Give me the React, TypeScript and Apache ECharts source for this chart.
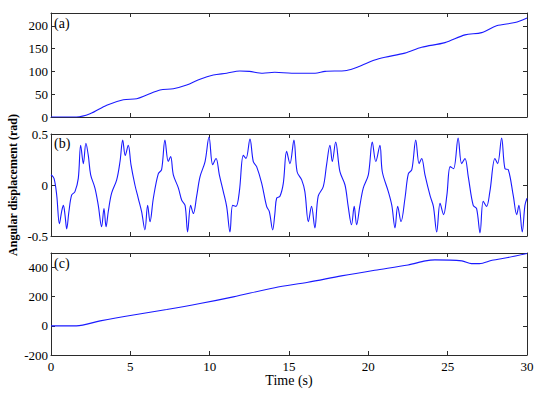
import React, { useEffect, useRef } from "react";
import * as echarts from "echarts";

// Panel (a)
const tA = [0, 1.6, 2.46, 3.51, 4.56, 5.4, 6.03, 6.87, 7.71, 8.55, 9.39, 10.23, 11.07, 11.9, 12.5, 13.35, 14.1, 15.17, 16.64, 17.27, 18.63, 19.37, 20.4, 21.05, 22.3, 23.36, 24.83, 26.09, 27.14, 28.08, 29.24, 30];
const vA = [0, 0, 7, 26, 38, 40, 48, 59, 62, 70, 83, 92, 96, 101, 100, 96, 98, 96, 96, 100, 102, 110, 125, 131, 140, 153, 163, 180, 185, 200, 207, 217];

// Panel (b)
const tB = [
  0, 0.19, 0.36, 0.53, 0.67, 0.78, 0.88, 0.99,
  1.13, 1.3, 1.51, 1.72, 1.87, 2.04, 2.2, 2.35, 2.5,
  2.77, 2.98, 3.19, 3.34, 3.47, 3.61, 3.82,
  4.14, 4.35, 4.52, 4.68, 4.87, 5.04, 5.29,
  5.5, 5.71, 5.92, 6.09, 6.24, 6.45,
  6.76, 6.97, 7.18, 7.39, 7.54, 7.71,
  8.03, 8.24, 8.45, 8.61, 8.8, 8.97, 9.18,
  9.39, 9.71, 9.96, 10.19, 10.4, 10.61,
  10.86, 11.07, 11.28, 11.45, 11.66, 11.87,
  12.12, 12.29, 12.54, 12.75, 12.96, 13.28,
  13.59, 13.76, 13.97, 14.11, 14.22, 14.43, 14.64,
  14.85, 15.06, 15.31, 15.51, 15.8, 16.0,
  16.22, 16.42, 16.63, 16.84, 17.16,
  17.37, 17.58, 17.73, 17.94, 18.21, 18.53,
  18.73, 18.94, 19.11, 19.26, 19.47, 19.68,
  20.0, 20.25, 20.47, 20.73, 20.88,
  21.26, 21.48, 21.68, 21.85, 22.06, 22.31,
  22.52, 22.74, 22.99, 23.2, 23.36, 23.57,
  23.9, 24.1, 24.31, 24.52, 24.74, 24.95,
  25.16, 25.37, 25.66, 25.88, 26.09, 26.3,
  26.61, 26.82, 27.04, 27.24, 27.45, 27.66,
  27.98, 28.15, 28.4, 28.61, 28.82,
  29.14, 29.35, 29.49, 29.7, 29.87, 30,
];
const vB = [
  0.1, 0.065, -0.1, -0.38, -0.26, -0.2, -0.29, -0.43,
  -0.26, -0.1, -0.065, 0.065, 0.39, 0.21, 0.41, 0.29, 0.1,
  -0.03, -0.2, -0.41, -0.23, -0.41, -0.26, -0.08,
  0.05, 0.23, 0.44, 0.29, 0.39, 0.2, 0.0,
  -0.13, -0.26, -0.44, -0.2, -0.36, -0.13,
  0.11, 0.15, 0.44, 0.23, 0.28, 0.1,
  -0.03, -0.15, -0.2, -0.46, -0.2, -0.28, -0.11,
  0.08, 0.23, 0.47, 0.2, 0.26, 0.1,
  -0.065, -0.21, -0.46, -0.2, -0.21, -0.065,
  0.29, 0.26, 0.45, 0.23, 0.18, 0.016,
  -0.21, -0.26, -0.44, -0.28, -0.13, -0.11, 0.016,
  0.33, 0.21, 0.44, 0.13, 0.05, -0.065,
  -0.36, -0.21, -0.42, -0.11, -0.016,
  0.2, 0.39, 0.23, 0.42, 0.13, 0.0,
  -0.21, -0.39, -0.21, -0.39, -0.2, -0.03,
  0.1, 0.42, 0.23, 0.39, 0.13,
  -0.065, -0.2, -0.42, -0.21, -0.36, -0.13,
  0.11, 0.15, 0.44, 0.21, 0.26, 0.1,
  -0.11, -0.21, -0.46, -0.18, -0.29, -0.1,
  0.18, 0.16, 0.46, 0.21, 0.26, 0.08,
  -0.2, -0.23, -0.47, -0.16, -0.21, -0.065,
  0.26, 0.21, 0.46, 0.16, 0.15,
  -0.11, -0.29, -0.2, -0.46, -0.2, -0.13,
];

// Panel (c)
const tC = [0, 1.6, 3.1, 5.19, 7.29, 9.39, 11.49, 14.1, 16.2, 18.3, 20.4, 22.5, 23.6, 24.2, 25.9, 26.5, 27, 27.8, 28.8, 30];
const vC = [0, 0, 34, 75, 112, 153, 199, 262, 299, 343, 382, 418, 446, 453, 446, 427, 427, 450, 469, 496];

const panelLabels = ["(a)", "(b)", "(c)"];
const yRanges = [
  { min: 0, max: 228, interval: 50 },
  { min: -0.5, max: 0.5, interval: 0.5 },
  { min: -200, max: 500, interval: 200 },
];
const xTicks = { min: 0, max: 30, interval: 5 };
const yTitle = "Angular displacement (rad)";
const xTitle = "Time (s)";

const FONT = "'Liberation Serif', 'Times New Roman', Times, serif";
const AXIS_COLOR = "#2b2b2b";

export default function App() {
  const ref = useRef<HTMLDivElement>(null);
  useEffect(() => {
    if (!ref.current) return;
    const chart = echarts.init(ref.current, null, { renderer: "svg" });
    const grids = [
      { left: 51, right: 23, top: 13, height: 104 },
      { left: 51, right: 23, top: 134, height: 102 },
      { left: 51, right: 23, top: 253, height: 102 },
    ];
    const lineStyle = { color: AXIS_COLOR, width: 1 };
    const xAxis: any[] = [];
    const yAxis: any[] = [];
    grids.forEach((_, i) => {
      xAxis.push({
        gridIndex: i, type: "value", ...xTicks, position: "bottom",
        axisLine: { show: true, onZero: false, lineStyle },
        axisTick: { show: true, inside: true, length: 4, lineStyle },
        axisLabel: { show: i === 2, color: "#000", fontFamily: FONT, fontSize: 13, margin: 5 },
        splitLine: { show: false },
      });
      xAxis.push({
        gridIndex: i, type: "value", ...xTicks, position: "top",
        axisLine: { show: true, onZero: false, lineStyle },
        axisTick: { show: true, inside: true, length: 4, lineStyle },
        axisLabel: { show: false },
        splitLine: { show: false },
      });
      yAxis.push({
        gridIndex: i, type: "value", ...yRanges[i], position: "left",
        axisLine: { show: true, onZero: false, lineStyle },
        axisTick: { show: true, inside: true, length: 4, lineStyle },
        axisLabel: {
          show: true, color: "#000", fontFamily: FONT, fontSize: 13, margin: 3,
          showMaxLabel: i === 1,
        },
        splitLine: { show: false },
      });
      yAxis.push({
        gridIndex: i, type: "value", ...yRanges[i], position: "right",
        axisLine: { show: true, onZero: false, lineStyle },
        axisTick: { show: true, inside: true, length: 4, lineStyle },
        axisLabel: { show: false },
        splitLine: { show: false },
      });
    });
    const datasets = [
      tA.map((t, i) => [t, vA[i]]),
      tB.map((t, i) => [t, vB[i]]),
      tC.map((t, i) => [t, vC[i]]),
    ];
    const series = datasets.map((d, i) => ({
      type: "line",
      xAxisIndex: 2 * i,
      yAxisIndex: 2 * i,
      data: d,
      showSymbol: false,
      smooth: i === 1 ? 0.35 : 0.3,
      lineStyle: { color: "#1a1aff", width: 1.1 },
      silent: true,
    }));
    const labelTops = [16, 136, 256];
    const graphic: any[] = panelLabels.map((txt, i) => ({
      type: "text",
      left: 54,
      top: labelTops[i],
      style: { text: txt, fontFamily: FONT, fontSize: 14, fill: "#000" },
    }));
    graphic.push({
      type: "text",
      x: 13,
      y: 185,
      rotation: Math.PI / 2,
      style: {
        text: yTitle, fontFamily: FONT, fontSize: 12, fontWeight: "bold", fill: "#000",
        textAlign: "center", textVerticalAlign: "middle",
      },
    });
    graphic.push({
      type: "text",
      x: 289,
      y: 380,
      style: {
        text: xTitle, fontFamily: FONT, fontSize: 14, fill: "#000",
        textAlign: "center", textVerticalAlign: "middle",
      },
    });
    chart.setOption({
      animation: false,
      backgroundColor: "#fff",
      grid: grids,
      xAxis,
      yAxis,
      series,
      graphic,
    });
    return () => chart.dispose();
  }, []);
  return (
    <div
      ref={ref}
      style={{ position: "fixed", left: 0, top: 0, width: 550, height: 397, background: "#fff" }}
    />
  );
}
